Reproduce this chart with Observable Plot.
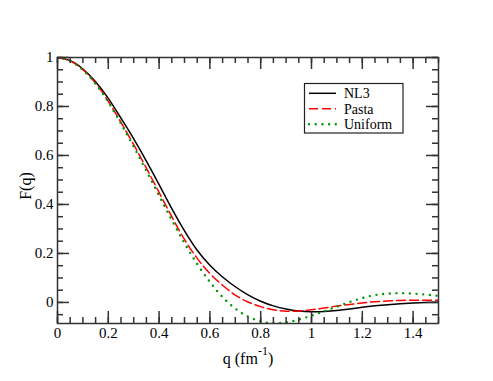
<!DOCTYPE html>
<html><head><meta charset="utf-8">
<script src="https://cdn.jsdelivr.net/npm/d3@7"></script>
<script src="https://cdn.jsdelivr.net/npm/@observablehq/plot@0.6"></script>
<style>body{margin:0;background:#fff;} #chart{width:493px;height:381px;} svg text{font-family:"Liberation Serif" !important;}</style>
</head><body><div id="chart"></div>
<script>
const q = [0,0.05,0.1,0.15,0.2,0.25,0.3,0.35,0.4,0.45,0.5,0.55,0.6,0.65,0.7,0.75,0.8,0.85,0.9,0.95,1.0,1.05,1.1,1.15,1.2,1.25,1.3,1.35,1.4,1.45,1.5];
const nl3 = [1.0,0.987,0.953,0.901,0.833,0.752,0.668,0.577,0.481,0.383,0.292,0.213,0.152,0.104,0.064,0.031,0.005,-0.014,-0.027,-0.035,-0.038,-0.037,-0.033,-0.027,-0.020,-0.014,-0.009,-0.005,-0.002,0.0,0.001];
const pasta = [1.0,0.986,0.950,0.895,0.821,0.735,0.644,0.548,0.449,0.350,0.257,0.180,0.118,0.070,0.030,0.002,-0.017,-0.030,-0.036,-0.035,-0.030,-0.023,-0.015,-0.008,-0.002,0.003,0.006,0.008,0.009,0.009,0.009];
const uniform = [1.0,0.986,0.949,0.893,0.818,0.730,0.636,0.537,0.436,0.336,0.242,0.157,0.084,0.022,-0.025,-0.058,-0.077,-0.085,-0.081,-0.070,-0.054,-0.036,-0.017,0.002,0.018,0.030,0.036,0.038,0.036,0.032,0.027];
const seriesNames = ["NL3","Pasta","Uniform"];
const xTicks = [0,0.2,0.4,0.6,0.8,1,1.2,1.4];
const yTicks = [0,0.2,0.4,0.6,0.8,1];
const xMinor = [0,0.05,0.1,0.15,0.2,0.25,0.3,0.35,0.4,0.45,0.5,0.55,0.6,0.65,0.7,0.75,0.8,0.85,0.9,0.95,1.0,1.05,1.1,1.15,1.2,1.25,1.3,1.35,1.4,1.45,1.5];
const yMinor = [-0.05,0,0.05,0.1,0.15,0.2,0.25,0.3,0.35,0.4,0.45,0.5,0.55,0.6,0.65,0.7,0.75,0.8,0.85,0.9,0.95,1.0];

const W = 493, H = 381, mL = 57, mR = 55, mT = 57, mB = 58;
const iw = W - mL - mR, ih = H - mT - mB;
const styles = [
  {stroke: "#000000", strokeWidth: 1.5, strokeDasharray: null},
  {stroke: "#ff0000", strokeWidth: 1.5, strokeDasharray: "9,4"},
  {stroke: "#009600", strokeWidth: 2.4, strokeDasharray: "0,6.7", strokeLinecap: "round"}
];
const series = [nl3, pasta, uniform].map((vals, k) => q.map((v, i) => ({q: v, F: vals[i], s: seriesNames[k]})));

const font = '"Liberation Serif"';
const major = 12, minor = 6, tickColor = "#333";
const plot = Plot.plot({
  width: W, height: H,
  marginLeft: mL, marginRight: mR, marginTop: mT, marginBottom: mB,
  x: {domain: [0, 1.5]},
  y: {domain: [-0.086, 1]},
  style: {fontFamily: font, fontSize: "15px", background: "white", color: "#000"},
  marks: [
    ...series.map((d, k) => Plot.line(d, {x: "q", y: "F", curve: "natural", clip: true, ...styles[k]})),
    Plot.tickX(xTicks, {insetTop: ih - major, stroke: tickColor, strokeWidth: 1.5}),
    Plot.tickX(xTicks, {insetBottom: ih - major, stroke: tickColor, strokeWidth: 1.5}),
    Plot.tickX(xMinor, {insetTop: ih - minor, stroke: tickColor, strokeWidth: 1.5}),
    Plot.tickX(xMinor, {insetBottom: ih - minor, stroke: tickColor, strokeWidth: 1.5}),
    Plot.tickY(yTicks, {insetRight: iw - major, stroke: tickColor, strokeWidth: 1.5}),
    Plot.tickY(yTicks, {insetLeft: iw - major, stroke: tickColor, strokeWidth: 1.5}),
    Plot.tickY(yMinor, {insetRight: iw - minor, stroke: tickColor, strokeWidth: 1.5}),
    Plot.tickY(yMinor, {insetLeft: iw - minor, stroke: tickColor, strokeWidth: 1.5}),
    Plot.frame({stroke: tickColor, strokeWidth: 1.5}),
    Plot.axisX(xTicks, {tickSize: 0, tickPadding: 4, tickFormat: d => String(d), label: null, fontSize: 15}),
    Plot.axisY(yTicks, {tickSize: 0, tickPadding: 4, tickFormat: d => String(d), label: null, fontSize: 15})
  ]
});
document.getElementById("chart").appendChild(plot);

const svg = d3.select(plot);
// axis titles
svg.append("text").attr("transform", "translate(31,186) rotate(-90)")
  .attr("text-anchor", "middle").attr("font-family", "Liberation Serif").attr("font-size", 16).text("F(q)");
const xl = svg.append("text").attr("x", 248).attr("y", 364)
  .attr("text-anchor", "middle").attr("font-family", "Liberation Serif").attr("font-size", 16);
xl.append("tspan").text("q (fm");
xl.append("tspan").attr("dy", -9).attr("font-size", 12).text("-1");
xl.append("tspan").attr("dy", 9).text(")");

// legend
const lg = svg.append("g");
lg.append("rect").attr("x", 304.5).attr("y", 83.5).attr("width", 98.5).attr("height", 49.5)
  .attr("fill", "white").attr("stroke", "#222").attr("stroke-width", 1.2);
seriesNames.forEach((name, k) => {
  const y = 93.3 + k * 15.5;
  const st = styles[k];
  lg.append("line").attr("x1", 309).attr("x2", 336).attr("y1", y).attr("y2", y)
    .attr("stroke", st.stroke).attr("stroke-width", st.strokeWidth)
    .attr("stroke-dasharray", st.strokeDasharray).attr("stroke-linecap", st.strokeLinecap || null);
  lg.append("text").attr("x", 344).attr("y", y).attr("dy", "0.35em").attr("text-anchor", "start")
    .attr("font-family", "Liberation Serif").attr("font-size", 14).text(name);
});
</script>
</body></html>
